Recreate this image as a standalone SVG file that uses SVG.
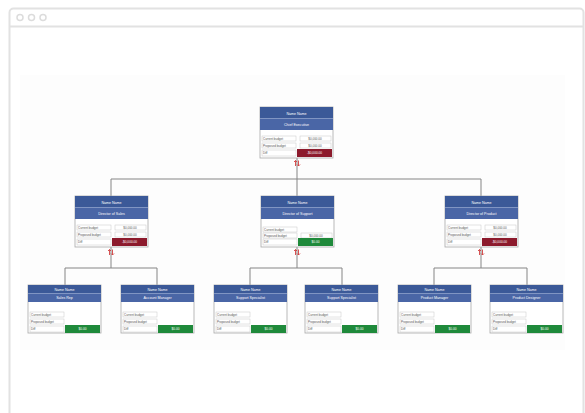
<svg xmlns="http://www.w3.org/2000/svg" width="585" height="413" viewBox="0 0 585 413">
<defs>
<style>
.frame{fill:#fff;stroke:#e2e2e2;stroke-width:2}
.dot{fill:#fff;stroke:#dcdcdc;stroke-width:1.5}
.card{fill:#fff;stroke:#a8a8a8;stroke-width:0.8}
.h1{fill:#3b5998}
.h2{fill:#4a66a6}
.sep{stroke:#8fa3cf;stroke-width:0.5}
.cell{fill:#fff;stroke:#c8c8c8;stroke-width:0.5}
.red{fill:#8c1a2c}
.green{fill:#1f8a3b}
.ht{font-family:"Liberation Sans",Arial,sans-serif;font-size:3.6px;fill:#fff;text-anchor:middle}
.ct{font-family:"Liberation Sans",Arial,sans-serif;font-size:3px;fill:#555}
.bt{font-family:"Liberation Sans",Arial,sans-serif;font-size:3.2px;fill:#fff;text-anchor:middle}
.link{fill:none;stroke:#858585;stroke-width:1}
.mk{fill:none;stroke:#d04040;stroke-width:0.9}
</style>
</defs>
<rect x="0" y="0" width="585" height="413" fill="#fff"/>
<rect class="frame" x="9.5" y="8.5" width="574" height="420" rx="4"/>
<line x1="9.5" y1="26.5" x2="583.5" y2="26.5" stroke="#e2e2e2" stroke-width="2"/>
<circle class="dot" cx="20" cy="17.5" r="3"/>
<circle class="dot" cx="31.5" cy="17.5" r="3"/>
<circle class="dot" cx="43" cy="17.5" r="3"/>
<rect x="20" y="75" width="545" height="275" fill="#fdfdfd"/>

<g id="connectors">
<path class="link" d="M297 158V179M111 179H481M111 179V196M297 179V196M481 179V196"/>
<path class="link" d="M111 247V268M297 247V268M481 247V268"/>
<path class="link" d="M65 268H157M65 268V285M157 268V285"/>
<path class="link" d="M250 268H342M250 268V285M342 268V285"/>
<path class="link" d="M434 268H527M434 268V285M527 268V285"/>
<path class="mk" d="M295.5 166V160.5L294 162M295.5 160.5L297 162M298.5 160.5V166L297 164.5M298.5 166L300 164.5"/>
<path class="mk" d="M109.5 255V249.5L108 251M109.5 249.5L111 251M112.5 249.5V255L111 253.5M112.5 255L114 253.5"/>
<path class="mk" d="M295.5 255V249.5L294 251M295.5 249.5L297 251M298.5 249.5V255L297 253.5M298.5 255L300 253.5"/>
<path class="mk" d="M479.5 255V249.5L478 251M479.5 249.5L481 251M482.5 249.5V255L481 253.5M482.5 255L484 253.5"/>
</g>

<g id="n-top" transform="translate(260,107)">
<rect class="card" x="0" y="0" width="73" height="51"/>
<rect class="h1" x="0" y="0" width="73" height="11.5"/>
<rect class="h2" x="0" y="11.5" width="73" height="11.5"/>
<line class="sep" x1="0" y1="11.5" x2="73" y2="11.5"/>
<text class="ht" x="36.5" y="7.5">Name Name</text>
<text class="ht" x="36.5" y="19">Chief Executive</text>
<rect class="cell" x="2" y="29" width="34" height="5"/><text class="ct" x="3" y="32.5">Current budget</text>
<rect class="cell" x="40" y="29" width="31" height="5"/><text class="ct" x="55" y="32.5" text-anchor="middle">$0,000.00</text>
<rect class="cell" x="2" y="36" width="34" height="5"/><text class="ct" x="3" y="39.5">Proposed budget</text>
<rect class="cell" x="40" y="36" width="31" height="5"/><text class="ct" x="55" y="39.5" text-anchor="middle">$0,000.00</text>
<rect class="cell" x="2" y="43" width="34" height="6"/><text class="ct" x="3" y="47">Diff</text>
<rect class="red" x="37" y="42" width="35" height="8"/><text class="bt" x="54.5" y="47.3">-$0,000.00</text>
</g>

<g id="n-l2a" transform="translate(75,196)">
<rect class="card" x="0" y="0" width="73" height="51"/>
<rect class="h1" x="0" y="0" width="73" height="11.5"/>
<rect class="h2" x="0" y="11.5" width="73" height="11.5"/>
<line class="sep" x1="0" y1="11.5" x2="73" y2="11.5"/>
<text class="ht" x="36.5" y="7.5">Name Name</text>
<text class="ht" x="36.5" y="19">Director of Sales</text>
<rect class="cell" x="2" y="29" width="34" height="5"/><text class="ct" x="3" y="32.5">Current budget</text>
<rect class="cell" x="40" y="29" width="31" height="5"/><text class="ct" x="55" y="32.5" text-anchor="middle">$0,000.00</text>
<rect class="cell" x="2" y="36" width="34" height="5"/><text class="ct" x="3" y="39.5">Proposed budget</text>
<rect class="cell" x="40" y="36" width="31" height="5"/><text class="ct" x="55" y="39.5" text-anchor="middle">$0,000.00</text>
<rect class="cell" x="2" y="43" width="34" height="6"/><text class="ct" x="3" y="47">Diff</text>
<rect class="red" x="37" y="42" width="35" height="8"/><text class="bt" x="54.5" y="47.3">-$0,000.00</text>
</g>

<g id="n-l2b" transform="translate(261,196)">
<rect class="card" x="0" y="0" width="73" height="51"/>
<rect class="h1" x="0" y="0" width="73" height="11.5"/>
<rect class="h2" x="0" y="11.5" width="73" height="11.5"/>
<line class="sep" x1="0" y1="11.5" x2="73" y2="11.5"/>
<text class="ht" x="36.5" y="7.5">Name Name</text>
<text class="ht" x="36.5" y="19">Director of Support</text>
<rect class="cell" x="2" y="31" width="34" height="5"/><text class="ct" x="3" y="34.5">Current budget</text>
<rect class="cell" x="2" y="37" width="34" height="5"/><text class="ct" x="3" y="40.5">Proposed budget</text>
<rect class="cell" x="40" y="37" width="31" height="5"/><text class="ct" x="55" y="40.5" text-anchor="middle">$0,000.00</text>
<rect class="cell" x="2" y="43" width="34" height="6"/><text class="ct" x="3" y="47">Diff</text>
<rect class="green" x="37" y="42" width="35" height="8"/><text class="bt" x="54.5" y="47.3">$0.00</text>
</g>

<g id="n-l2c" transform="translate(445,196)">
<rect class="card" x="0" y="0" width="73" height="51"/>
<rect class="h1" x="0" y="0" width="73" height="11.5"/>
<rect class="h2" x="0" y="11.5" width="73" height="11.5"/>
<line class="sep" x1="0" y1="11.5" x2="73" y2="11.5"/>
<text class="ht" x="36.5" y="7.5">Name Name</text>
<text class="ht" x="36.5" y="19">Director of Product</text>
<rect class="cell" x="2" y="29" width="34" height="5"/><text class="ct" x="3" y="32.5">Current budget</text>
<rect class="cell" x="40" y="29" width="31" height="5"/><text class="ct" x="55" y="32.5" text-anchor="middle">$0,000.00</text>
<rect class="cell" x="2" y="36" width="34" height="5"/><text class="ct" x="3" y="39.5">Proposed budget</text>
<rect class="cell" x="40" y="36" width="31" height="5"/><text class="ct" x="55" y="39.5" text-anchor="middle">$0,000.00</text>
<rect class="cell" x="2" y="43" width="34" height="6"/><text class="ct" x="3" y="47">Diff</text>
<rect class="red" x="37" y="42" width="35" height="8"/><text class="bt" x="54.5" y="47.3">-$0,000.00</text>
</g>

<g id="n-l3a" transform="translate(28,285)">
<rect class="card" x="0" y="0" width="73" height="48"/>
<rect class="h1" x="0" y="0" width="73" height="8.5"/>
<rect class="h2" x="0" y="8.5" width="73" height="8.5"/>
<line class="sep" x1="0" y1="8.5" x2="73" y2="8.5"/>
<text class="ht" x="36.5" y="6">Name Name</text>
<text class="ht" x="36.5" y="14.3">Sales Rep</text>
<rect class="cell" x="2" y="27" width="34" height="5"/><text class="ct" x="3" y="30.5">Current budget</text>
<rect class="cell" x="2" y="34" width="34" height="5"/><text class="ct" x="3" y="37.5">Proposed budget</text>
<rect class="cell" x="2" y="41" width="34" height="6"/><text class="ct" x="3" y="45">Diff</text>
<rect class="green" x="37" y="40" width="35" height="8"/><text class="bt" x="54.5" y="45.3">$0.00</text>
</g>

<g id="n-l3b" transform="translate(121,285)">
<rect class="card" x="0" y="0" width="73" height="48"/>
<rect class="h1" x="0" y="0" width="73" height="8.5"/>
<rect class="h2" x="0" y="8.5" width="73" height="8.5"/>
<line class="sep" x1="0" y1="8.5" x2="73" y2="8.5"/>
<text class="ht" x="36.5" y="6">Name Name</text>
<text class="ht" x="36.5" y="14.3">Account Manager</text>
<rect class="cell" x="2" y="27" width="34" height="5"/><text class="ct" x="3" y="30.5">Current budget</text>
<rect class="cell" x="2" y="34" width="34" height="5"/><text class="ct" x="3" y="37.5">Proposed budget</text>
<rect class="cell" x="2" y="41" width="34" height="6"/><text class="ct" x="3" y="45">Diff</text>
<rect class="green" x="37" y="40" width="35" height="8"/><text class="bt" x="54.5" y="45.3">$0.00</text>
</g>

<g id="n-l3c" transform="translate(214,285)">
<rect class="card" x="0" y="0" width="73" height="48"/>
<rect class="h1" x="0" y="0" width="73" height="8.5"/>
<rect class="h2" x="0" y="8.5" width="73" height="8.5"/>
<line class="sep" x1="0" y1="8.5" x2="73" y2="8.5"/>
<text class="ht" x="36.5" y="6">Name Name</text>
<text class="ht" x="36.5" y="14.3">Support Specialist</text>
<rect class="cell" x="2" y="27" width="34" height="5"/><text class="ct" x="3" y="30.5">Current budget</text>
<rect class="cell" x="2" y="34" width="34" height="5"/><text class="ct" x="3" y="37.5">Proposed budget</text>
<rect class="cell" x="2" y="41" width="34" height="6"/><text class="ct" x="3" y="45">Diff</text>
<rect class="green" x="37" y="40" width="35" height="8"/><text class="bt" x="54.5" y="45.3">$0.00</text>
</g>

<g id="n-l3d" transform="translate(305,285)">
<rect class="card" x="0" y="0" width="73" height="48"/>
<rect class="h1" x="0" y="0" width="73" height="8.5"/>
<rect class="h2" x="0" y="8.5" width="73" height="8.5"/>
<line class="sep" x1="0" y1="8.5" x2="73" y2="8.5"/>
<text class="ht" x="36.5" y="6">Name Name</text>
<text class="ht" x="36.5" y="14.3">Support Specialist</text>
<rect class="cell" x="2" y="27" width="34" height="5"/><text class="ct" x="3" y="30.5">Current budget</text>
<rect class="cell" x="2" y="34" width="34" height="5"/><text class="ct" x="3" y="37.5">Proposed budget</text>
<rect class="cell" x="2" y="41" width="34" height="6"/><text class="ct" x="3" y="45">Diff</text>
<rect class="green" x="37" y="40" width="35" height="8"/><text class="bt" x="54.5" y="45.3">$0.00</text>
</g>

<g id="n-l3e" transform="translate(398,285)">
<rect class="card" x="0" y="0" width="73" height="48"/>
<rect class="h1" x="0" y="0" width="73" height="8.5"/>
<rect class="h2" x="0" y="8.5" width="73" height="8.5"/>
<line class="sep" x1="0" y1="8.5" x2="73" y2="8.5"/>
<text class="ht" x="36.5" y="6">Name Name</text>
<text class="ht" x="36.5" y="14.3">Product Manager</text>
<rect class="cell" x="2" y="27" width="34" height="5"/><text class="ct" x="3" y="30.5">Current budget</text>
<rect class="cell" x="2" y="34" width="34" height="5"/><text class="ct" x="3" y="37.5">Proposed budget</text>
<rect class="cell" x="2" y="41" width="34" height="6"/><text class="ct" x="3" y="45">Diff</text>
<rect class="green" x="37" y="40" width="35" height="8"/><text class="bt" x="54.5" y="45.3">$0.00</text>
</g>

<g id="n-l3f" transform="translate(490,285)">
<rect class="card" x="0" y="0" width="73" height="48"/>
<rect class="h1" x="0" y="0" width="73" height="8.5"/>
<rect class="h2" x="0" y="8.5" width="73" height="8.5"/>
<line class="sep" x1="0" y1="8.5" x2="73" y2="8.5"/>
<text class="ht" x="36.5" y="6">Name Name</text>
<text class="ht" x="36.5" y="14.3">Product Designer</text>
<rect class="cell" x="2" y="27" width="34" height="5"/><text class="ct" x="3" y="30.5">Current budget</text>
<rect class="cell" x="2" y="34" width="34" height="5"/><text class="ct" x="3" y="37.5">Proposed budget</text>
<rect class="cell" x="2" y="41" width="34" height="6"/><text class="ct" x="3" y="45">Diff</text>
<rect class="green" x="37" y="40" width="35" height="8"/><text class="bt" x="54.5" y="45.3">$0.00</text>
</g>
</svg>
